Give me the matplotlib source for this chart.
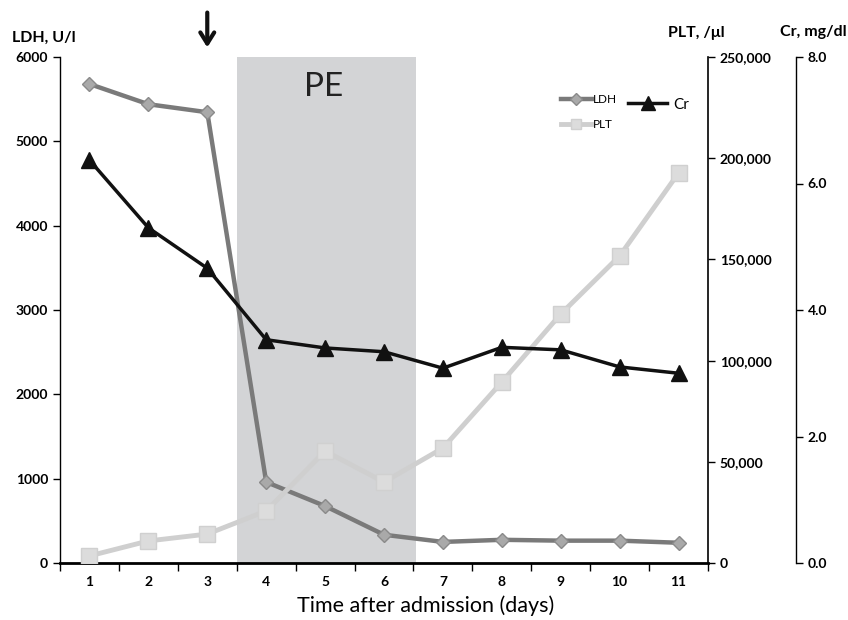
import matplotlib
matplotlib.use("Agg")
import matplotlib.pyplot as plt
from matplotlib.lines import Line2D
from matplotlib.ticker import FuncFormatter, FixedLocator

days = [1, 2, 3, 4, 5, 6, 7, 8, 9, 10, 11]
ldh = [5680, 5440, 5345, 960, 675, 335, 250, 275, 265, 265, 240]
plt_vals = [3500, 10900, 14300, 25700, 55300, 40000, 56800, 89400, 123000, 151700, 192700]
cr = [6.37, 5.30, 4.66, 3.53, 3.40, 3.34, 3.08, 3.41, 3.37, 3.10, 3.00]
pe_span = (3.5, 6.55)

FONT = ['Lato', 'DejaVu Sans']
plt.rcParams['font.family'] = FONT

fig = plt.figure(figsize=(8.48, 6.2), dpi=100)
ax = fig.add_axes([60/848, 1-563/620, (708-60)/848, (563-57)/620])
ax2 = ax.twinx()
ax3 = ax.twinx()

# shading
ax.axvspan(pe_span[0], pe_span[1], ymin=0, ymax=1, color='#d3d4d6', zorder=0, lw=0)
ax.text(sum(pe_span)/2 - 0.05, 5650, 'PE', fontsize=24, ha='center', va='center',
        color='#222222')

# lines
l1, = ax.plot(days, ldh, color='#7a7a7a', lw=3.2, marker='D', ms=7.5,
              mfc='#a9a9a9', mec='#8a8a8a', mew=1, zorder=3)
l2, = ax2.plot(days, plt_vals, color='#cfcfcf', lw=3.5, marker='s', ms=11,
               mfc='#dcdcdc', mec='#d0d0d0', mew=1, zorder=2)
l3, = ax3.plot(days, cr, color='#111111', lw=2.5, marker='^', ms=11,
               mfc='#111111', mec='#111111', zorder=4)

# axes limits
ax.set_xlim(0.5, 11.5)
ax.set_ylim(0, 6000)
ax2.set_ylim(0, 250000)
ax3.set_ylim(0, 8)

# x axis
ax.set_xticks(days)
ax.set_xticklabels([str(d) for d in days], fontsize=10, fontweight='bold')
ax.xaxis.set_minor_locator(FixedLocator([d - 0.5 for d in days] + [11.5]))
ax.tick_params(axis='x', which='major', length=0, pad=9)
ax.tick_params(axis='x', which='minor', length=6, width=1, direction='out')

# left axis
ax.set_yticks(range(0, 6001, 1000))
ax.tick_params(axis='y', labelsize=10, length=5, width=1, direction='out')
for t in ax.get_yticklabels():
    t.set_fontweight('bold')

# spines
for s in ['top', 'right']:
    ax.spines[s].set_visible(False)
ax.spines['bottom'].set_linewidth(2)
ax.spines['left'].set_linewidth(1)

for s in ['top', 'left', 'bottom']:
    ax2.spines[s].set_visible(False)
    ax3.spines[s].set_visible(False)
ax2.spines['right'].set_linewidth(1.2)
ax3.spines['right'].set_position(('axes', (796-60)/(708-60)))
ax3.spines['right'].set_linewidth(1)

ax2.set_yticks(range(0, 250001, 50000))
ax2.yaxis.set_major_formatter(FuncFormatter(lambda v, p: f"{int(v):,}"))
ax2.tick_params(axis='y', labelsize=10, length=5, width=1, direction='out')
for t in ax2.get_yticklabels():
    t.set_fontweight('bold')

ax3.set_yticks([0, 2, 4, 6, 8])
ax3.yaxis.set_major_formatter(FuncFormatter(lambda v, p: f"{v:.1f}"))
ax3.tick_params(axis='y', labelsize=10, length=5, width=1, direction='out')
for t in ax3.get_yticklabels():
    t.set_fontweight('bold')

# axis titles
fig.text(12/848, 1-38/620, 'LDH, U/l', fontsize=11.5, fontweight='bold', ha='left', va='center')
fig.text(668/848, 1-33/620, 'PLT, /μl', fontsize=11.5, fontweight='bold', ha='left', va='center')
fig.text(780/848, 1-32/620, 'Cr, mg/dl', fontsize=11.5, fontweight='bold', ha='left', va='center')
fig.text(426/848, 1-606/620, 'Time after admission (days)', fontsize=15.5, ha='center', va='center')

# arrow above day 3
ax.annotate('', xy=(3, 6080), xytext=(3, 6560), xycoords='data',
            arrowprops=dict(arrowstyle='->, head_width=0.5, head_length=0.8', lw=3, color='#111111'),
            annotation_clip=False)

# legends
h1 = Line2D([], [], color='#7a7a7a', lw=3.2, marker='D', ms=6, mfc='#a9a9a9', mec='#8a8a8a')
h2 = Line2D([], [], color='#cfcfcf', lw=3.5, marker='s', ms=7, mfc='#dcdcdc', mec='#d0d0d0')
h3 = Line2D([], [], color='#111111', lw=2.5, marker='^', ms=10, mfc='#111111')
leg1 = fig.legend([h1, h2], ['LDH', 'PLT'], loc='upper left',
                  bbox_to_anchor=(555/848, 1-88/620), frameon=False, fontsize=8.5,
                  handlelength=2.6, handletextpad=0.1, labelspacing=1.2, borderpad=0)
leg2 = fig.legend([h3], ['Cr'], loc='upper left',
                  bbox_to_anchor=(620/848, 1-90/620), frameon=False, fontsize=11,
                  handlelength=2.6, handletextpad=0.4, borderpad=0)

fig.savefig('out.png', dpi=100)
